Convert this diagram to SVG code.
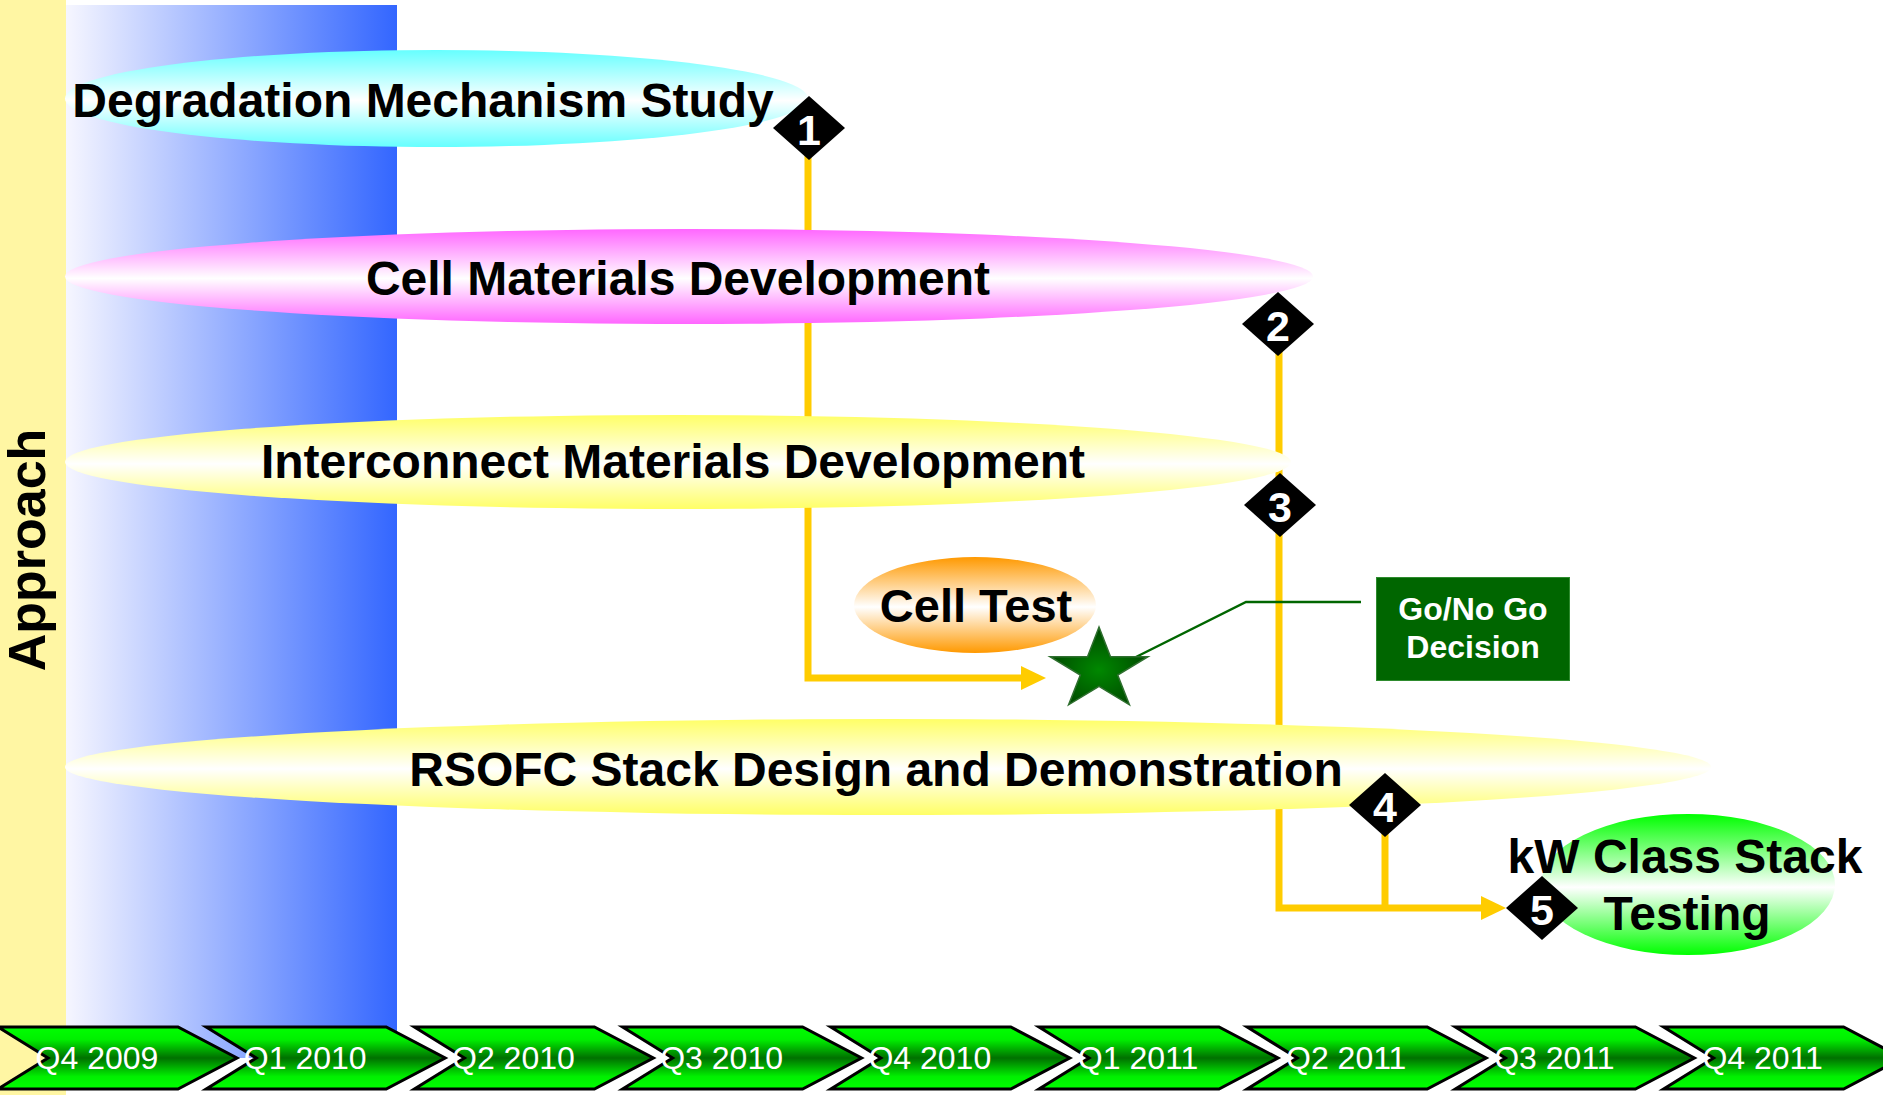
<svg xmlns="http://www.w3.org/2000/svg" width="1883" height="1095" viewBox="0 0 1883 1095">
<defs>
<linearGradient id="gBlue" x1="0" y1="0" x2="1" y2="0"><stop offset="0" stop-color="#f6f6ff"/><stop offset="1" stop-color="#3366ff"/></linearGradient>
<linearGradient id="gCyan" x1="0" y1="0" x2="0" y2="1"><stop offset="0" stop-color="#66ffff"/><stop offset="0.52" stop-color="#ffffff"/><stop offset="1" stop-color="#66ffff"/></linearGradient>
<linearGradient id="gPink" x1="0" y1="0" x2="0" y2="1"><stop offset="0" stop-color="#ff66ff"/><stop offset="0.52" stop-color="#ffffff"/><stop offset="1" stop-color="#ff66ff"/></linearGradient>
<linearGradient id="gYel" x1="0" y1="0" x2="0" y2="1"><stop offset="0" stop-color="#ffff66"/><stop offset="0.52" stop-color="#ffffff"/><stop offset="1" stop-color="#ffff66"/></linearGradient>
<linearGradient id="gOrg" x1="0" y1="0" x2="0" y2="1"><stop offset="0" stop-color="#ff9900"/><stop offset="0.52" stop-color="#ffffff"/><stop offset="1" stop-color="#ff9900"/></linearGradient>
<linearGradient id="gGrn" x1="0" y1="0" x2="0" y2="1"><stop offset="0" stop-color="#00ff00"/><stop offset="0.52" stop-color="#ffffff"/><stop offset="1" stop-color="#00ff00"/></linearGradient>
<linearGradient id="gChev" x1="0" y1="0" x2="0" y2="1"><stop offset="0" stop-color="#00ff00"/><stop offset="0.2" stop-color="#00f000"/><stop offset="0.5" stop-color="#007000"/><stop offset="0.8" stop-color="#00f000"/><stop offset="1" stop-color="#00ff00"/></linearGradient>
<radialGradient id="gStar" cx="0.5" cy="0.55" r="0.5"><stop offset="0" stop-color="#008800"/><stop offset="1" stop-color="#004d00"/></radialGradient>
<marker id="arr" markerUnits="userSpaceOnUse" markerWidth="26" markerHeight="26" refX="0" refY="12" orient="auto"><path d="M0,0 L25,12 L0,24 Z" fill="#ffcc00"/></marker>
<polygon id="chev" points="0,1027 180,1027 239,1058 180,1089 0,1089 50,1058" fill="url(#gChev)" stroke="#000" stroke-width="3" stroke-linejoin="miter"/>
<polygon id="dia" points="0,-32 36,0 0,32 -36,0" fill="#000"/>
</defs>
<style>
.t{font-family:"Liberation Sans",Arial,sans-serif;font-weight:bold;fill:#000;text-anchor:middle;font-size:48px}
.num{font-family:"Liberation Sans",Arial,sans-serif;font-weight:bold;fill:#fff;text-anchor:middle;font-size:43px}
.q{font-family:"Liberation Sans",Arial,sans-serif;fill:#fff;text-anchor:middle;font-size:32px}
.con{fill:none;stroke:#ffcc00;stroke-width:7}
</style>

<g id="background">
<rect x="0" y="0" width="66" height="1095" fill="#fff6a3"/>
<rect x="66" y="5" width="331" height="1053" fill="url(#gBlue)"/>
<text class="t" style="font-size:52px" transform="translate(45,550) rotate(-90)" x="0" y="0">Approach</text>
</g>

<g id="connectors">
<path class="con" d="M808,150 V678 H1021" marker-end="url(#arr)"/>
<path class="con" d="M1279,340 V908 H1481" marker-end="url(#arr)"/>
<path class="con" d="M1385,830 V908"/>
<path d="M1130,660 L1246,602 H1361" fill="none" stroke="#006600" stroke-width="2.5"/>
</g>

<g id="degradation">
<ellipse cx="436.5" cy="98.5" rx="371.5" ry="48.5" fill="url(#gCyan)"/>
<text class="t" x="423" y="117">Degradation Mechanism Study</text>
</g>
<g id="cell-materials">
<ellipse cx="689" cy="276.5" rx="624" ry="47.5" fill="url(#gPink)"/>
<text class="t" x="678" y="295">Cell Materials Development</text>
</g>
<g id="interconnect">
<ellipse cx="678" cy="462" rx="613" ry="47" fill="url(#gYel)"/>
<text class="t" x="673" y="478">Interconnect Materials Development</text>
</g>
<g id="cell-test">
<ellipse cx="975" cy="605" rx="121" ry="48" fill="url(#gOrg)"/>
<text class="t" x="976" y="622" style="font-size:47px">Cell Test</text>
</g>
<g id="rsofc">
<ellipse cx="888" cy="767" rx="823" ry="48" fill="url(#gYel)"/>
<text class="t" x="876" y="786">RSOFC Stack Design and Demonstration</text>
</g>
<g id="kw-testing">
<ellipse cx="1688" cy="884.5" rx="147" ry="70.5" fill="url(#gGrn)"/>
<text class="t" x="1685" y="873">kW Class Stack</text>
<text class="t" x="1687" y="930">Testing</text>
</g>

<g id="m1"><use href="#dia" x="809" y="128"/><text class="num" x="809" y="145">1</text></g>
<g id="m2"><use href="#dia" x="1278" y="324"/><text class="num" x="1278" y="341">2</text></g>
<g id="m3"><use href="#dia" x="1280" y="505"/><text class="num" x="1280" y="522">3</text></g>
<g id="m4"><use href="#dia" x="1385" y="805"/><text class="num" x="1385" y="822">4</text></g>
<g id="m5"><use href="#dia" x="1542" y="908"/><text class="num" x="1542" y="925">5</text></g>

<g id="star">
<polygon points="1099,627 1110.5,656.7 1148,656.7 1117.7,675.1 1129.4,704.8 1099,686.4 1068.6,704.8 1080.3,675.1 1050,656.7 1087.5,656.7" fill="url(#gStar)" stroke="#2f6f2f" stroke-width="1.5" stroke-linejoin="miter"/>
</g>

<g id="go-no-go">
<rect x="1376.5" y="577.5" width="193" height="103" fill="#006600" stroke="#2e8b2e" stroke-width="1"/>
<text class="t" x="1473" y="620" style="font-size:32px;fill:#fff">Go/No Go</text>
<text class="t" x="1473" y="658" style="font-size:32px;fill:#fff">Decision</text>
</g>

<g id="timeline">
<g id="q4-2009"><use href="#chev" x="-2"/><text class="q" x="97" y="1069">Q4 2009</text></g>
<g id="q1-2010"><use href="#chev" x="206.2"/><text class="q" x="305.2" y="1069">Q1 2010</text></g>
<g id="q2-2010"><use href="#chev" x="414.4"/><text class="q" x="513.4" y="1069">Q2 2010</text></g>
<g id="q3-2010"><use href="#chev" x="622.6"/><text class="q" x="721.6" y="1069">Q3 2010</text></g>
<g id="q4-2010"><use href="#chev" x="830.8"/><text class="q" x="929.8" y="1069">Q4 2010</text></g>
<g id="q1-2011"><use href="#chev" x="1039"/><text class="q" x="1138" y="1069">Q1 2011</text></g>
<g id="q2-2011"><use href="#chev" x="1247.2"/><text class="q" x="1346.2" y="1069">Q2 2011</text></g>
<g id="q3-2011"><use href="#chev" x="1455.4"/><text class="q" x="1554.4" y="1069">Q3 2011</text></g>
<g id="q4-2011"><use href="#chev" x="1663.6"/><text class="q" x="1762.6" y="1069">Q4 2011</text></g>
</g>
</svg>
